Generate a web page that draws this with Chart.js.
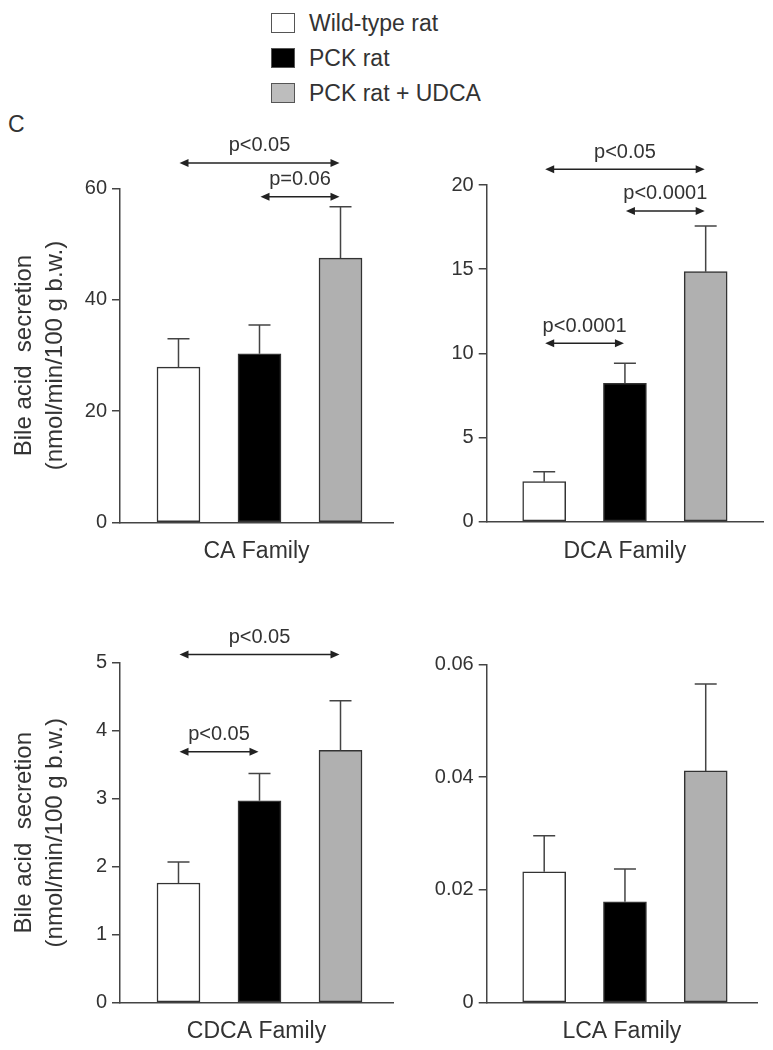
<!DOCTYPE html>
<html>
<head>
<meta charset="utf-8">
<script src="https://cdn.jsdelivr.net/npm/chart.js@4.4.1/dist/chart.umd.min.js"></script>
<style>
  html, body { margin: 0; padding: 0; background: #fff; }
  body { width: 773px; height: 1050px; position: relative; overflow: hidden;
         font-family: 'Liberation Sans', Arial, sans-serif; color: #333; }
  canvas { position: absolute; }
  .row { position: absolute; left: 271px; height: 20px; }
  .sw { position: absolute; left: 0; top: 0; width: 24px; height: 20px; box-sizing: border-box; border: 1.5px solid #555; }
  .lt { position: absolute; left: 38px; top: 0; font-size: 23px; line-height: 20px; white-space: nowrap; }
  #panelLabel { position: absolute; left: 8px; top: 113px; font-size: 23px; line-height: 23px; }
</style>
</head>
<body>
<div id="legend"></div>
<div id="panelLabel">C</div>
<canvas id="ca" width="400" height="450" style="left:0;top:120px"></canvas>
<canvas id="dca" width="373" height="450" style="left:400px;top:120px"></canvas>
<canvas id="cdca" width="400" height="480" style="left:0;top:570px"></canvas>
<canvas id="lca" width="373" height="480" style="left:400px;top:570px"></canvas>
<script>
// ---------- data ----------
const groups = ['Wild-type rat', 'PCK rat', 'PCK rat + UDCA'];
const barColors = ['#ffffff', '#000000', '#b0b0b0'];
const legendColors = ['#ffffff', '#000000', '#bdbdbd'];

const caMean = [27.9, 30.3, 47.5];
const caSem = [5.1, 5.2, 9.2];
const caTicks = [0, 20, 40, 60];

const dcaMean = [2.38, 8.22, 14.85];
const dcaSem = [0.59, 1.19, 2.72];
const dcaTicks = [0, 5, 10, 15, 20];

const cdcaMean = [1.76, 2.97, 3.71];
const cdcaSem = [0.31, 0.40, 0.73];
const cdcaTicks = [0, 1, 2, 3, 4, 5];

const lcaMean = [0.0232, 0.0179, 0.0411];
const lcaSem = [0.0064, 0.0058, 0.0154];
const lcaTicks = [0, 0.02, 0.04, 0.06];

// significance arrows: between group indices, at a height in axis units
const caSig = [
  { from: 0, to: 2, y: 64.6, label: 'p<0.05' },
  { from: 1, to: 2, y: 58.5, label: 'p=0.06' }
];
const dcaSig = [
  { from: 0, to: 2, y: 20.93, label: 'p<0.05' },
  { from: 1, to: 2, y: 18.46, label: 'p<0.0001' },
  { from: 0, to: 1, y: 10.6, label: 'p<0.0001' }
];
const cdcaSig = [
  { from: 0, to: 2, y: 5.12, label: 'p<0.05' },
  { from: 0, to: 1, y: 3.69, label: 'p<0.05' }
];
const lcaSig = [];

const yTitleLines = ['Bile acid  secretion', '(nmol/min/100 g b.w.)'];

// ---------- legend ----------
const legend = document.getElementById('legend');
groups.forEach((g, i) => {
  const row = document.createElement('div');
  row.className = 'row';
  row.style.top = (12.7 + 35 * i) + 'px';
  const sw = document.createElement('div');
  sw.className = 'sw';
  sw.style.background = legendColors[i];
  const t = document.createElement('div');
  t.className = 'lt';
  t.textContent = g;
  row.appendChild(sw); row.appendChild(t);
  legend.appendChild(row);
});

// ---------- charts ----------
const FONT = "'Liberation Sans', Arial, sans-serif";
Chart.defaults.font.family = FONT;
Chart.defaults.color = '#333';

function overlayPlugin(mean, sem, sig) {
  return {
    id: 'overlay',
    afterDatasetsDraw(chart) {
      const ctx = chart.ctx, xs = chart.scales.x, ys = chart.scales.y;
      const meta = chart.getDatasetMeta(0);
      ctx.save();
      // error bars (upper only)
      ctx.strokeStyle = '#444';
      ctx.lineWidth = 1.5;
      meta.data.forEach((bar, i) => {
        const top = ys.getPixelForValue(mean[i] + sem[i]);
        ctx.beginPath();
        ctx.moveTo(bar.x, bar.y);
        ctx.lineTo(bar.x, top);
        ctx.moveTo(bar.x - 11, top);
        ctx.lineTo(bar.x + 11, top);
        ctx.stroke();
      });
      // significance arrows
      ctx.strokeStyle = '#222';
      ctx.fillStyle = '#222';
      ctx.lineWidth = 1.5;
      sig.forEach(s => {
        const x0 = xs.getPixelForValue(s.from) + 1;
        const x1 = xs.getPixelForValue(s.to) - 1;
        const y = ys.getPixelForValue(s.y);
        const h = 9, w = 4;
        ctx.beginPath();
        ctx.moveTo(x0 + h - 1, y); ctx.lineTo(x1 - h + 1, y);
        ctx.stroke();
        ctx.beginPath();
        ctx.moveTo(x0, y); ctx.lineTo(x0 + h, y - w); ctx.lineTo(x0 + h, y + w); ctx.closePath();
        ctx.fill();
        ctx.beginPath();
        ctx.moveTo(x1, y); ctx.lineTo(x1 - h, y - w); ctx.lineTo(x1 - h, y + w); ctx.closePath();
        ctx.fill();
        ctx.fillStyle = '#333';
        ctx.font = '20px ' + FONT;
        ctx.textAlign = 'center';
        ctx.textBaseline = 'middle';
        ctx.fillText(s.label, (x0 + x1) / 2, y - 17);
        ctx.fillStyle = '#222';
      });
      ctx.restore();
    }
  };
}

function makePanel(id, mean, sem, ticks, sig, family, showYTitle, L) {
  new Chart(document.getElementById(id), {
    type: 'bar',
    data: {
      datasets: [{
        data: mean.map((m, i) => ({ x: i, y: m })),
        backgroundColor: barColors,
        borderColor: '#333',
        borderWidth: 1.5,
        borderSkipped: false,
        barThickness: 43
      }]
    },
    options: {
      responsive: false,
      animation: false,
      events: [],
      layout: { padding: { top: L.top, right: L.right, left: 0, bottom: 0 } },
      plugins: { legend: { display: false }, tooltip: { enabled: false } },
      scales: {
        x: {
          type: 'linear', min: L.xMin, max: L.xMax, offset: false,
          afterFit: s => { s.height = L.xH; },
          grid: { display: false },
          ticks: { display: false },
          border: { display: true, color: '#444', width: 1.5 },
          title: { display: true, text: family, color: '#333',
                   font: { size: 23, lineHeight: 1.2 }, padding: { top: 0, bottom: 4.2 } }
        },
        y: {
          min: ticks[0], max: ticks[ticks.length - 1],
          afterBuildTicks: s => { s.ticks = ticks.map(v => ({ value: v })); },
          afterFit: s => { s.width = L.yW; },
          grid: { display: true, drawOnChartArea: false, drawTicks: true, tickLength: 8,
                  color: '#444', lineWidth: 1.5 },
          border: { display: true, color: '#444', width: 1.5 },
          ticks: { padding: 5, color: '#333', font: { size: 20 }, callback: v => String(v) },
          title: { display: showYTitle, text: yTitleLines, color: '#333',
                   font: { size: 24, lineHeight: 1.3 }, padding: { top: 8.4, bottom: 0 } }
        }
      }
    },
    plugins: [overlayPlugin(mean, sem, sig)]
  });
}

makePanel('ca', caMean, caSem, caTicks, caSig, 'CA Family', true,
  { top: 68.5, right: 7, yW: 120, xH: 47.5, xMin: -0.722, xMax: 2.648 });
makePanel('dca', dcaMean, dcaSem, dcaTicks, dcaSig, 'DCA Family', false,
  { top: 65, right: 10, yW: 86.7, xH: 48.3, xMin: -0.712, xMax: 2.71 });
makePanel('cdca', cdcaMean, cdcaSem, cdcaTicks, cdcaSig, 'CDCA Family', true,
  { top: 92.7, right: 7, yW: 120, xH: 47.3, xMin: -0.722, xMax: 2.648 });
makePanel('lca', lcaMean, lcaSem, lcaTicks, lcaSig, 'LCA Family', false,
  { top: 94.3, right: 16, yW: 86.7, xH: 47.3, xMin: -0.712, xMax: 2.635 });
</script>
</body>
</html>
